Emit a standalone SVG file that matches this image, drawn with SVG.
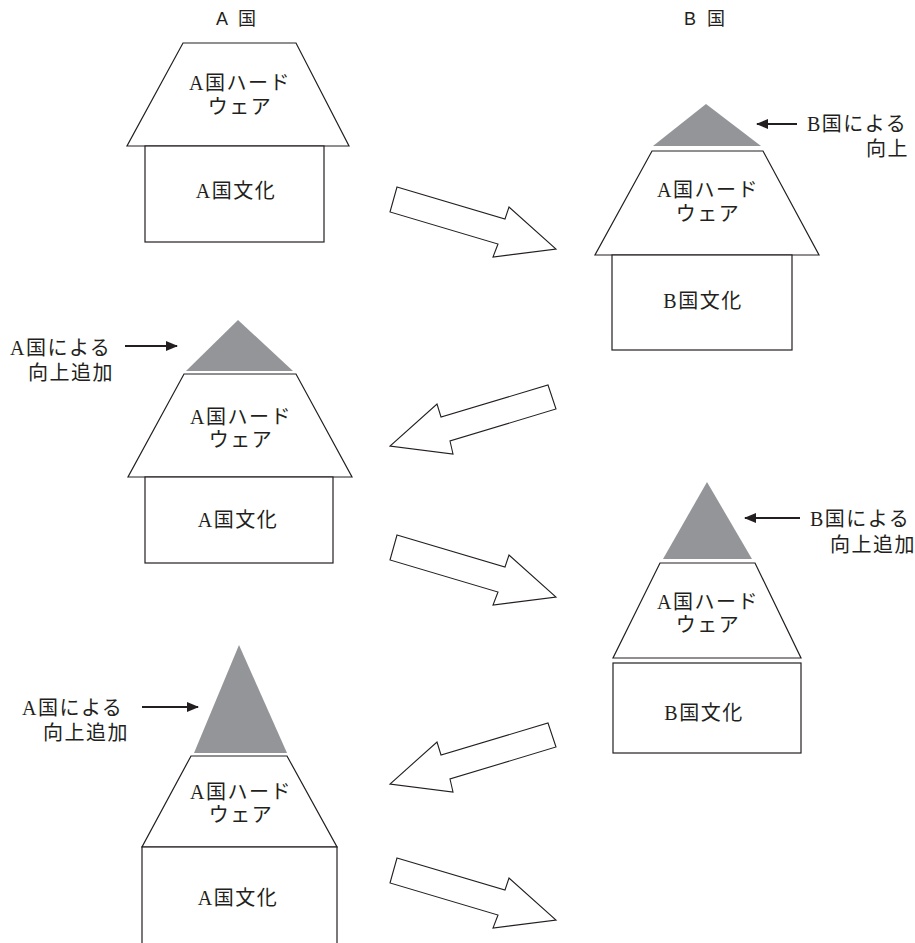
<svg xmlns="http://www.w3.org/2000/svg" width="915" height="943" viewBox="0 0 915 943">
  <defs>
    <marker id="ah" viewBox="0 0 12 10" refX="11" refY="5" markerWidth="13" markerHeight="10" markerUnits="userSpaceOnUse" orient="auto">
      <path d="M0,0 L12,5 L0,10 Z" fill="#231f20"/>
    </marker>
    <style>
      .shape { fill: #ffffff; stroke: #231f20; stroke-width: 1.2; }
      .roof-add { fill: #939598; stroke: none; }
      .big-arrow { fill: #ffffff; stroke: #231f20; stroke-width: 1.1; stroke-linejoin: miter; }
      .ptr { stroke: #231f20; stroke-width: 2; fill: none; }
      .lbl { font-family: "Liberation Serif", "Noto Sans CJK JP", serif; font-size: 20px; fill: #231f20; letter-spacing: 1.5px; }
      .mid { text-anchor: middle; }
      .hdr { font-family: "Liberation Sans", "Noto Sans CJK JP", sans-serif; font-size: 18px; fill: #231f20; letter-spacing: 3px; }
    </style>
  </defs>

  <!-- column headings -->
  <text class="hdr" x="216" y="25">A 国</text>
  <text class="hdr" x="684" y="25">B 国</text>

  <!-- house 1: country A -->
  <g id="house-a1">
    <polygon class="shape" points="183,43 296,43 349,146 127,146"/>
    <rect class="shape" x="145" y="146" width="179" height="96"/>
    <text class="lbl mid" x="240" y="90">A国ハード</text>
    <text class="lbl mid" x="240" y="114">ウェア</text>
    <text class="lbl mid" x="236" y="198">A国文化</text>
  </g>

  <!-- house 2: country B -->
  <g id="house-b1">
    <polygon class="roof-add" points="706,104 761,146 653,146"/>
    <polygon class="shape" points="652,151 763,151 819,255 595,255"/>
    <rect class="shape" x="612" y="255" width="180" height="95"/>
    <text class="lbl mid" x="708" y="197">A国ハード</text>
    <text class="lbl mid" x="708" y="221">ウェア</text>
    <text class="lbl mid" x="703" y="308">B国文化</text>
  </g>
  <g id="note-b1">
    <text class="lbl" x="807" y="131">B国による</text>
    <text class="lbl" x="866" y="156">向上</text>
  </g>

  <!-- house 3: country A -->
  <g id="house-a2">
    <polygon class="roof-add" points="238,320 293,371 186,371"/>
    <polygon class="shape" points="184,374 296,374 352,477 128,477"/>
    <rect class="shape" x="145" y="477" width="188" height="86"/>
    <text class="lbl mid" x="241" y="424">A国ハード</text>
    <text class="lbl mid" x="241" y="447">ウェア</text>
    <text class="lbl mid" x="238" y="527">A国文化</text>
  </g>
  <g id="note-a2">
    <text class="lbl" x="10" y="355">A国による</text>
    <text class="lbl" x="28" y="380">向上追加</text>
  </g>

  <!-- house 4: country B -->
  <g id="house-b2">
    <polygon class="roof-add" points="707,482 752,559 663,559"/>
    <polygon class="shape" points="660,563 755,563 801,658 613,658"/>
    <rect class="shape" x="613" y="663" width="188" height="90"/>
    <text class="lbl mid" x="708" y="609">A国ハード</text>
    <text class="lbl mid" x="708" y="632">ウェア</text>
    <text class="lbl mid" x="704" y="720">B国文化</text>
  </g>
  <g id="note-b2">
    <text class="lbl" x="810" y="526">B国による</text>
    <text class="lbl" x="830" y="552">向上追加</text>
  </g>

  <!-- house 5: country A -->
  <g id="house-a3">
    <polygon class="roof-add" points="239,645 287,753 194,753"/>
    <polygon class="shape" points="191,756 287,756 337,847 142,847"/>
    <rect class="shape" x="142" y="847" width="195" height="110"/>
    <text class="lbl mid" x="241" y="799">A国ハード</text>
    <text class="lbl mid" x="241" y="822">ウェア</text>
    <text class="lbl mid" x="238" y="905">A国文化</text>
  </g>
  <g id="note-a3">
    <text class="lbl" x="22" y="715">A国による</text>
    <text class="lbl" x="43" y="740">向上追加</text>
  </g>

  <!-- transfer arrows and pointers -->
  <g id="connectors">
    <polygon class="big-arrow" points="397,187 505,219 509,207 556,249 493,257 498,244 390,212"/>
    <polygon class="big-arrow" points="548,385 556,409 450,441 453,454 390,446 437,404 441,417"/>
    <polygon class="big-arrow" transform="translate(0,348)" points="397,187 505,219 509,207 556,249 493,257 498,244 390,212"/>
    <polygon class="big-arrow" transform="translate(0,338)" points="548,385 556,409 450,441 453,454 390,446 437,404 441,417"/>
    <polygon class="big-arrow" transform="translate(0,671)" points="397,187 505,219 509,207 556,249 493,257 498,244 390,212"/>

    <line class="ptr" x1="797" y1="124" x2="757" y2="124" marker-end="url(#ah)"/>
    <line class="ptr" x1="125" y1="346" x2="177" y2="346" marker-end="url(#ah)"/>
    <line class="ptr" x1="800" y1="518" x2="745" y2="518" marker-end="url(#ah)"/>
    <line class="ptr" x1="142" y1="707" x2="198" y2="707" marker-end="url(#ah)"/>
  </g>
</svg>
